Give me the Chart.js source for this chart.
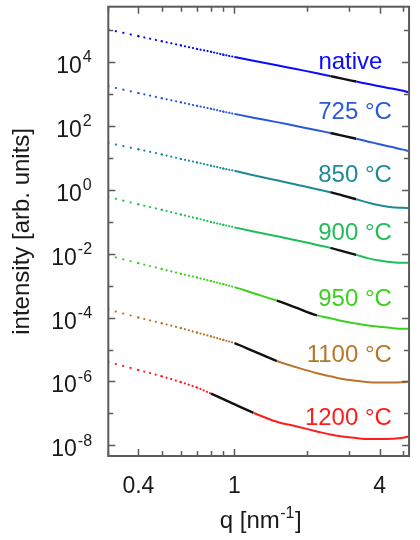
<!DOCTYPE html>
<html>
<head>
<meta charset="utf-8">
<style>
  html, body { margin: 0; padding: 0; background: #ffffff; }
  #wrap { width: 420px; height: 540px; }
</style>
<script src="https://cdn.jsdelivr.net/npm/chart.js@4.4.1/dist/chart.umd.min.js"></script>
</head>
<body>
<div id="wrap"><canvas id="saxs" width="420" height="540"></canvas></div>
<script>
// Scattering vector q [nm^-1] shared by all curves
const qValues = [0.3, 0.4, 0.5, 0.6, 0.7, 0.8, 0.9, 1.0, 1.2, 1.5, 1.8, 2.2, 2.5, 2.8, 3.2, 3.6, 4.0, 4.5, 5.0, 5.25];

// Sample names (annealing temperature)
const seriesNames = ['native', '725 °C', '850 °C', '900 °C', '950 °C', '1100 °C', '1200 °C'];

// Intensities [arb. units], curves offset vertically for clarity
const intensityNative = [1.02e5, 6.31e4, 4.37e4, 3.24e4, 2.51e4, 2.04e4, 1.66e4, 1.41e4, 1.07e4, 7.76e3, 5.89e3, 4.37e3, 3.55e3, 2.95e3, 2.40e3, 2.00e3, 1.70e3, 1.45e3, 1.23e3, 1.12e3];
const intensity725 = [1.70e3, 1.05e3, 724, 537, 417, 339, 275, 234, 178, 129, 97.7, 72.4, 58.9, 49.0, 38.9, 31.6, 26.3, 21.4, 17.8, 16.2];
const intensity850 = [28.8, 18.2, 12.6, 9.12, 7.08, 5.62, 4.57, 3.89, 2.82, 1.95, 1.45, 1.02, 0.832, 0.661, 0.501, 0.389, 0.324, 0.282, 0.269, 0.263];
const intensity900 = [0.589, 0.347, 0.234, 0.166, 0.126, 0.0977, 0.0794, 0.0661, 0.0490, 0.0347, 0.0263, 0.0186, 0.0151, 0.0120, 0.00912, 0.00708, 0.00603, 0.00537, 0.00513, 0.00513];
const intensity950 = [8.71e-3, 5.01e-3, 3.31e-3, 2.34e-3, 1.78e-3, 1.38e-3, 1.10e-3, 8.91e-4, 5.75e-4, 3.39e-4, 2.04e-4, 1.17e-4, 9.55e-5, 7.76e-5, 6.46e-5, 5.62e-5, 5.13e-5, 4.68e-5, 4.47e-5, 4.47e-5];
const intensity1100 = [1.78e-4, 1.00e-4, 6.61e-5, 4.68e-5, 3.39e-5, 2.57e-5, 2.00e-5, 1.58e-5, 8.91e-6, 4.37e-6, 2.82e-6, 1.82e-6, 1.45e-6, 1.20e-6, 1.05e-6, 9.55e-7, 9.33e-7, 9.33e-7, 9.55e-7, 9.77e-7];
const intensity1200 = [4.07e-6, 2.29e-6, 1.45e-6, 9.55e-7, 6.46e-7, 4.17e-7, 2.82e-7, 1.95e-7, 1.05e-7, 5.50e-8, 3.98e-8, 2.75e-8, 2.19e-8, 1.91e-8, 1.70e-8, 1.58e-8, 1.58e-8, 1.62e-8, 1.74e-8, 1.91e-8];

const allIntensities = [intensityNative, intensity725, intensity850, intensity900, intensity950, intensity1100, intensity1200];

// Low-q branch (drawn dotted) ends at this q for each curve
const dottedUntilQ = [1.0, 1.0, 1.0, 1.0, 1.0, 1.0, 0.8];
// q-range of the power-law fit (drawn in black) for each curve
const fitRangeLow = [2.5, 2.5, 2.5, 2.5, 1.5, 1.0, 0.8];
const fitRangeHigh = [3.2, 3.2, 3.2, 3.2, 2.2, 1.5, 1.2];

// Axis ticks
const xTickValues = [0.3, 0.4, 0.5, 0.6, 0.7, 0.8, 0.9, 1, 2, 3, 4, 5];
const xTickLabels = { 0.4: '0.4', 1: '1', 4: '4' };
const yTickValues = [1e-8, 1e-7, 1e-6, 1e-5, 1e-4, 1e-3, 1e-2, 1e-1, 1e0, 1e1, 1e2, 1e3, 1e4, 1e5];
const yTickExponents = [-8, -7, -6, -5, -4, -3, -2, -1, 0, 1, 2, 3, 4, 5];
const yLabelledExponents = [-8, -6, -4, -2, 0, 2, 4];

// ---- styling ----
const FONT = "'Liberation Sans', Arial, Helvetica, sans-serif";
const TEXT_COLOR = '#1a1a1a';
const AXIS_COLOR = '#5a5a5a';
const FIT_COLOR = '#111111';
const seriesColors = ['#0a0aff', '#2a58d8', '#1e8a98', '#20be58', '#3ad21c', '#b5772b', '#ff1c1c'];

// Curve name placement (data coordinates) and alignment
const nameAnchors = [
  { q: 2.23, I: 6.0e3, align: 'left' },
  { q: 4.5, I: 1.66e2, align: 'right' },
  { q: 4.5, I: 1.74, align: 'right' },
  { q: 4.5, I: 2.75e-2, align: 'right' },
  { q: 4.5, I: 2.24e-4, align: 'right' },
  { q: 4.5, I: 4.07e-6, align: 'right' },
  { q: 4.5, I: 4.27e-8, align: 'right' }
];

function isDotted(i, ctx) {
  return ctx.p1.parsed.x <= dottedUntilQ[i] + 1e-9;
}
function isFit(i, ctx) {
  return ctx.p0.parsed.x >= fitRangeLow[i] - 1e-9 && ctx.p1.parsed.x <= fitRangeHigh[i] + 1e-9;
}
// measured points are evenly spaced in q, so on a log axis they crowd together with rising q
function dotPeriod(ctx) {
  const qm = Math.sqrt(ctx.p0.parsed.x * ctx.p1.parsed.x);
  return Math.max(3, 2.65 / qm);
}

const datasets = seriesNames.map((name, i) => ({
  label: name,
  data: qValues.map((q, k) => ({ x: q, y: allIntensities[i][k] })),
  borderColor: seriesColors[i],
  borderWidth: 2,
  pointRadius: 0,
  pointHoverRadius: 0,
  fill: false,
  cubicInterpolationMode: 'monotone',
  segment: {
    borderColor: ctx => isFit(i, ctx) ? FIT_COLOR : undefined,
    borderDash: ctx => isDotted(i, ctx) ? [0.2, dotPeriod(ctx) - 0.2] : [],
    borderCapStyle: ctx => isDotted(i, ctx) ? 'round' : 'butt',
    borderWidth: ctx => isDotted(i, ctx) ? 2.1 : (isFit(i, ctx) ? 2.4 : 2)
  }
}));

// Inward ticks, frame, superscripted tick labels, axis title and curve names
const decorations = {
  id: 'decorations',
  afterDraw(chart) {
    const { ctx, chartArea: ca } = chart;
    const xs = chart.scales.x, ys = chart.scales.y;
    ctx.save();

    ctx.strokeStyle = AXIS_COLOR;
    ctx.lineWidth = 1.5;
    ctx.beginPath();
    xTickValues.forEach(v => {
      const px = Math.round(xs.getPixelForValue(v)) + 0.5;
      const len = xTickLabels[v] ? 7 : 5;
      ctx.moveTo(px, ca.bottom); ctx.lineTo(px, ca.bottom - len);
      ctx.moveTo(px, ca.top); ctx.lineTo(px, ca.top + len);
    });
    yTickValues.forEach((v, k) => {
      const py = Math.round(ys.getPixelForValue(v)) + 0.5;
      const len = yLabelledExponents.includes(yTickExponents[k]) ? 7 : 5;
      ctx.moveTo(ca.left, py); ctx.lineTo(ca.left + len, py);
      ctx.moveTo(ca.right, py); ctx.lineTo(ca.right - len, py);
    });
    ctx.stroke();

    ctx.lineWidth = 2;
    ctx.strokeRect(ca.left, ca.top, ca.right - ca.left, ca.bottom - ca.top);

    // y tick labels: 10 with raised exponent
    ctx.fillStyle = TEXT_COLOR;
    ctx.textBaseline = 'alphabetic';
    yTickValues.forEach((v, k) => {
      const e = yTickExponents[k];
      if (!yLabelledExponents.includes(e)) return;
      const py = ys.getPixelForValue(v);
      const right10 = ca.left - (e < 0 ? 31.5 : 26.5);
      ctx.font = '23px ' + FONT;
      ctx.textAlign = 'right';
      ctx.fillText('10', right10, py + 11);
      ctx.font = '16px ' + FONT;
      ctx.textAlign = 'left';
      ctx.fillText(String(e), right10 + 1, py + 0.5);
    });

    // x axis title: q [nm^-1]
    ctx.font = '24px ' + FONT;
    const partA = 'q [nm', partC = ']';
    const wA = ctx.measureText(partA).width, wC = ctx.measureText(partC).width;
    ctx.font = '16px ' + FONT;
    const partB = '-1';
    const wB = ctx.measureText(partB).width;
    const total = wA + wB + 1 + wC;
    let x0 = (ca.left + ca.right) / 2 + 2 - total / 2;
    ctx.textAlign = 'left';
    ctx.font = '24px ' + FONT;
    ctx.fillText(partA, x0, 528);
    ctx.font = '16px ' + FONT;
    ctx.fillText(partB, x0 + wA + 0.5, 518);
    ctx.font = '24px ' + FONT;
    ctx.fillText(partC, x0 + wA + wB + 1, 528);

    // curve names
    ctx.font = '24px ' + FONT;
    seriesNames.forEach((name, i) => {
      const a = nameAnchors[i];
      ctx.fillStyle = seriesColors[i];
      ctx.textAlign = a.align;
      ctx.fillText(name, xs.getPixelForValue(a.q), ys.getPixelForValue(a.I));
    });

    ctx.restore();
  }
};

new Chart(document.getElementById('saxs'), {
  type: 'line',
  data: { datasets },
  options: {
    responsive: false,
    devicePixelRatio: 1,
    animation: false,
    events: [],
    layout: { padding: { top: 6.7, right: 2.4, left: 0, bottom: 0 } },
    plugins: { legend: { display: false }, tooltip: { enabled: false } },
    scales: {
      x: {
        type: 'logarithmic',
        min: 0.3,
        max: 5.3,
        afterBuildTicks: s => { s.ticks = xTickValues.map(v => ({ value: v })); },
        afterFit: s => { s.height = 84; },
        grid: { display: false, drawTicks: false },
        border: { display: false },
        ticks: {
          autoSkip: false,
          maxRotation: 0,
          minRotation: 0,
          padding: 17,
          color: TEXT_COLOR,
          font: { family: FONT, size: 23 },
          callback: v => xTickLabels[v] ?? ''
        }
      },
      y: {
        type: 'logarithmic',
        min: 4.68e-9,
        max: 5.25e5,
        afterBuildTicks: s => { s.ticks = yTickValues.map(v => ({ value: v })); },
        afterFit: s => { s.width = 108.3; },
        grid: { display: false, drawTicks: false },
        border: { display: false },
        ticks: { display: false },
        title: {
          display: true,
          text: 'intensity [arb. units]',
          color: TEXT_COLOR,
          font: { family: FONT, size: 24 },
          padding: { top: 8, bottom: 0 }
        }
      }
    }
  },
  plugins: [decorations]
});
</script>
</body>
</html>
